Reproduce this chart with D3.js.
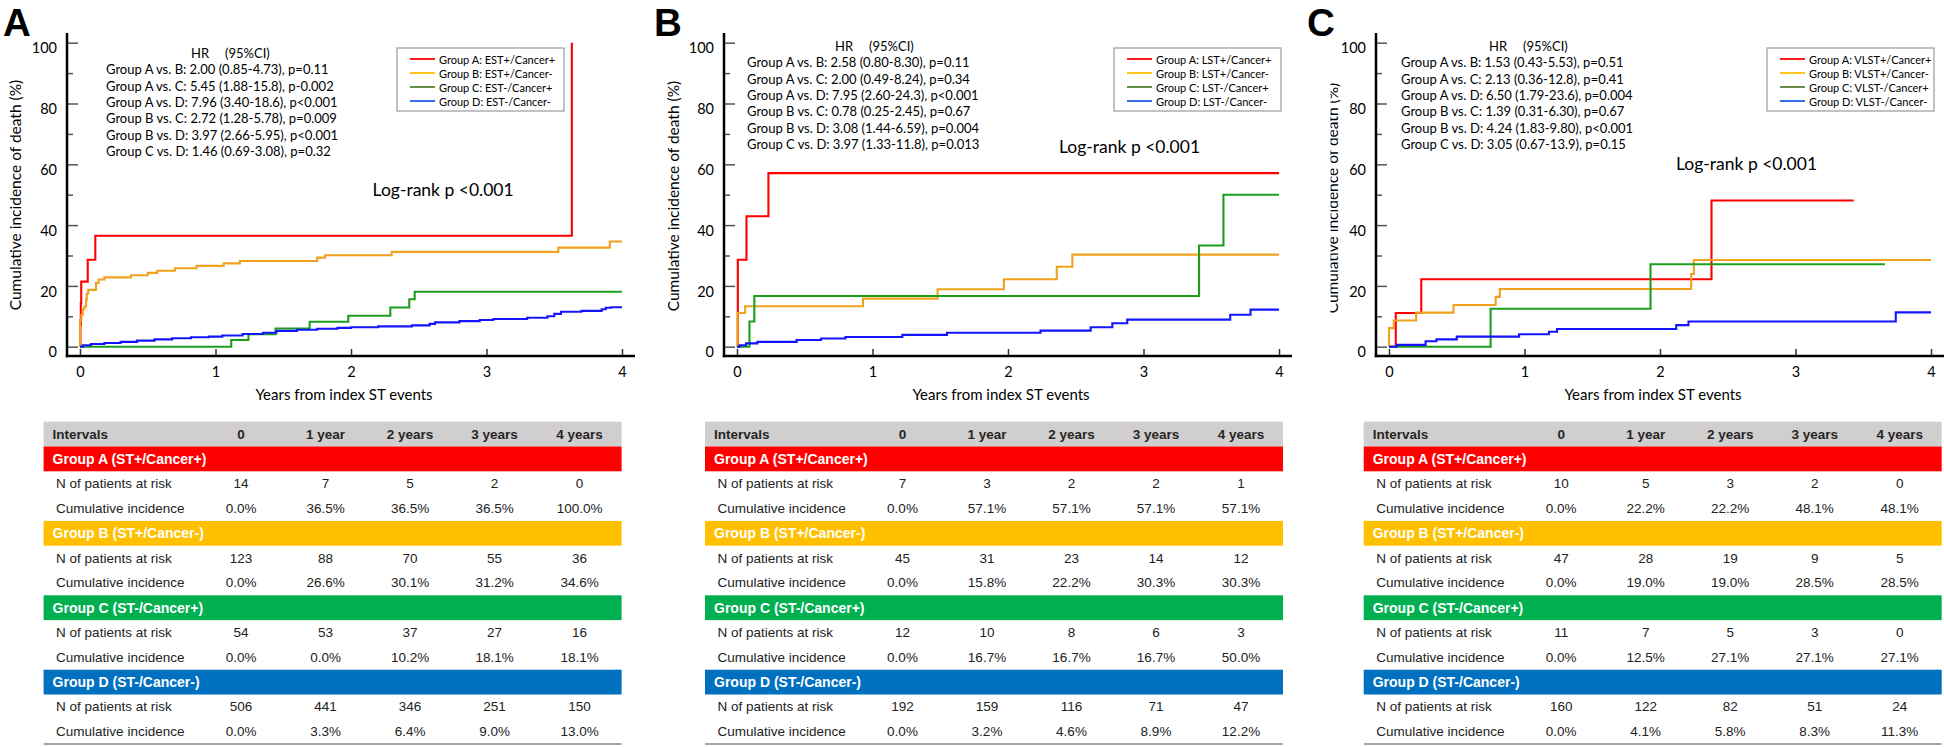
<!DOCTYPE html>
<html><head><meta charset="utf-8">
<script src="https://cdn.jsdelivr.net/npm/d3@7"></script>
<style>body{margin:0;background:#fff}svg{display:block}</style>
</head><body><svg id="c" width="1944" height="747"></svg>
<script>
// ---------- data ----------
const panelLetters = ["A", "B", "C"];
const xTicks = [0, 1, 2, 3, 4];
const yMajor = [0, 20, 40, 60, 80, 100];
const yMinor = [10, 30, 50, 70, 90];
const xTitle = "Years from index ST events";
const yTitle = "Cumulative incidence of death (%)";
const logRank = "Log-rank p <0.001";

const legendA = ["Group A: EST+/Cancer+", "Group B: EST+/Cancer-", "Group C: EST-/Cancer+", "Group D: EST-/Cancer-"];
const legendB = ["Group A: LST+/Cancer+", "Group B: LST+/Cancer-", "Group C: LST-/Cancer+", "Group D: LST-/Cancer-"];
const legendC = ["Group A: VLST+/Cancer+", "Group B: VLST+/Cancer-", "Group C: VLST-/Cancer+", "Group D: VLST-/Cancer-"];

const hrA = ["Group A vs. B: 2.00 (0.85-4.73), p=0.11", "Group A vs. C: 5.45 (1.88-15.8), p-0.002", "Group A vs. D: 7.96 (3.40-18.6), p<0.001",
  "Group B vs. C: 2.72 (1.28-5.78), p=0.009", "Group B vs. D: 3.97 (2.66-5.95), p<0.001", "Group C vs. D: 1.46 (0.69-3.08), p=0.32"];
const hrB = ["Group A vs. B: 2.58 (0.80-8.30), p=0.11", "Group A vs. C: 2.00 (0.49-8.24), p=0.34", "Group A vs. D: 7.95 (2.60-24.3), p<0.001",
  "Group B vs. C: 0.78 (0.25-2.45), p=0.67", "Group B vs. D: 3.08 (1.44-6.59), p=0.004", "Group C vs. D: 3.97 (1.33-11.8), p=0.013"];
const hrC = ["Group A vs. B: 1.53 (0.43-5.53), p=0.51", "Group A vs. C: 2.13 (0.36-12.8), p=0.41", "Group A vs. D: 6.50 (1.79-23.6), p=0.004",
  "Group B vs. C: 1.39 (0.31-6.30), p=0.67", "Group B vs. D: 4.24 (1.83-9.80), p<0.001", "Group C vs. D: 3.05 (0.67-13.9), p=0.15"];

// step curves: [years, cumulative incidence %]; end = last follow-up time
const A_red = [[0,0],[0.003,7.1],[0.006,14.3],[0.009,21.4],[0.057,28.6],[0.113,36.5],[3.63,100]];
const A_redEnd = 3.63;
const A_orange = [[0,0],[0,8.8],[0.01,10.5],[0.02,12.3],[0.032,13.2],[0.045,15.5],[0.05,17.5],[0.061,18.7],[0.118,21],[0.138,22.1],[0.18,22.8],[0.376,23.5],[0.5,24.3],[0.57,25],[0.7,25.8],[0.86,26.6],[1.06,27.4],[1.18,28.2],[1.75,29.3],[1.81,30.1],[2.30,31.2],[3.53,32.6],[3.91,34.6]];
const A_orangeEnd = 4;
const A_green = [[0,0],[1.116,2.2],[1.243,4.1],[1.443,6.0],[1.695,8.2],[1.98,10.2],[2.29,12.9],[2.43,15.6],[2.47,18.1]];
const A_greenEnd = 4;
const A_blue = [[0,0],[0.02,0.5],[0.08,0.9],[0.18,1.2],[0.3,1.6],[0.42,2.0],[0.55,2.4],[0.68,2.8],[0.82,3.1],[0.95,3.3],[1.05,3.7],[1.2,4.2],[1.35,4.6],[1.45,5.2],[1.6,5.6],[1.75,5.9],[1.9,6.2],[2.0,6.4],[2.2,6.7],[2.45,7.0],[2.58,7.5],[2.62,8.0],[2.8,8.4],[2.95,8.8],[3.05,9.1],[3.3,9.5],[3.45,10.0],[3.5,10.8],[3.55,11.5],[3.7,11.8],[3.85,12.3],[3.88,12.8],[3.92,13.0]];
const A_blueEnd = 4;

const B_red = [[0,0],[0.006,28.6],[0.07,42.9],[0.232,57.1]];
const B_redEnd = 4;
const B_orange = [[0,0],[0.004,11.1],[0.06,13.3],[0.93,15.8],[1.48,18.9],[1.97,22.2],[2.36,26.3],[2.475,30.3]];
const B_orangeEnd = 4;
const B_green = [[0,0],[0.092,8.3],[0.128,16.7],[3.41,33.3],[3.59,50.0]];
const B_greenEnd = 4;
const B_blue = [[0,0],[0.02,0.5],[0.067,1.1],[0.15,1.6],[0.44,2.2],[0.62,2.7],[0.80,3.2],[1.22,3.9],[1.55,4.6],[2.24,5.3],[2.61,6.4],[2.77,7.7],[2.88,8.9],[3.64,10.5],[3.79,12.2]];
const B_blueEnd = 4;

const C_red = [[0,0],[0.05,11.1],[0.238,22.2],[2.38,48.1]];
const C_redEnd = 3.43;
const C_orange = [[0,0],[0,6.1],[0.035,8.6],[0.2,11.2],[0.476,13.7],[0.787,16.4],[0.818,19.0],[2.23,23.9],[2.25,28.5]];
const C_orangeEnd = 4;
const C_green = [[0,0],[0.75,12.5],[1.93,27.1]];
const C_greenEnd = 3.66;
const C_blue = [[0,0],[0.058,0.6],[0.27,1.8],[0.35,2.4],[0.5,3.3],[0.96,4.1],[1.18,4.9],[1.24,5.8],[2.12,7.1],[2.21,8.3],[3.74,11.3]];
const C_blueEnd = 4;

// table
const tableHead = ["Intervals", "0", "1 year", "2 years", "3 years", "4 years"];
const groupLabels = ["Group A (ST+/Cancer+)", "Group B (ST+/Cancer-)", "Group C (ST-/Cancer+)", "Group D (ST-/Cancer-)"];
const rowLabels = ["N of patients at risk", "Cumulative incidence"];
const riskA = [[14,7,5,2,0],[123,88,70,55,36],[54,53,37,27,16],[506,441,346,251,150]];
const incA = [[0,36.5,36.5,36.5,100],[0,26.6,30.1,31.2,34.6],[0,0,10.2,18.1,18.1],[0,3.3,6.4,9.0,13.0]];
const riskB = [[7,3,2,2,1],[45,31,23,14,12],[12,10,8,6,3],[192,159,116,71,47]];
const incB = [[0,57.1,57.1,57.1,57.1],[0,15.8,22.2,30.3,30.3],[0,16.7,16.7,16.7,50.0],[0,3.2,4.6,8.9,12.2]];
const riskC = [[10,5,3,2,0],[47,28,19,9,5],[11,7,5,3,0],[160,122,82,51,24]];
const incC = [[0,22.2,22.2,48.1,48.1],[0,19.0,19.0,28.5,28.5],[0,12.5,27.1,27.1,27.1],[0,4.1,5.8,8.3,11.3]];

// ---------- layout / style ----------
const curveColors = ["#ff0000", "#f0a21e", "#1c9e1c", "#1414ff"];
const legendColors = ["#ff0000", "#ffc000", "#548235", "#1f5ee6"];
const bandColors = ["#ff0000", "#ffc000", "#00b050", "#0070c0"];
const chartFont = "Lato, 'Open Sans', sans-serif";
const tableFont = "'Liberation Sans', Arial, sans-serif";

const panels = [
  {ox: 0, letterX: 3, legend: legendA, hr: hrA, hrX: 106, hrLab: [191, 225], hrY: 53, logX: 372.6, logY: 189, ytX: 15, ytY: 195,
   curves: [[A_red, A_redEnd], [A_orange, A_orangeEnd], [A_green, A_greenEnd], [A_blue, A_blueEnd]], legendX: 397,
   tableX: 43.6, risk: riskA, inc: incA},
  {ox: 657, letterX: 654, legend: legendB, hr: hrB, hrX: 90, hrLab: [178, 212], hrY: 46, logX: 402, logY: 146, ytX: 16, ytY: 196,
   curves: [[B_red, B_redEnd], [B_orange, B_orangeEnd], [B_green, B_greenEnd], [B_blue, B_blueEnd]], legendX: 457,
   tableX: 705, risk: riskB, inc: incB},
  {ox: 1309, letterX: 1307, legend: legendC, hr: hrC, hrX: 92, hrLab: [180, 214], hrY: 46, logX: 367, logY: 163, ytX: 23, ytY: 198,
   curves: [[C_red, C_redEnd], [C_orange, C_orangeEnd], [C_green, C_greenEnd], [C_blue, C_blueEnd]], legendX: 458,
   tableX: 1363.7, risk: riskC, inc: incC, clipTitle: 1330.5}
];

const svg = d3.select("#c");
svg.append("rect").attr("width", 1944).attr("height", 747).attr("fill", "#fff");
const defs = svg.append("defs");

const yAxisX = 67, yAxisTop = 33, xAxisY = 356, xAxisRight = 635;
const y = d3.scaleLinear().domain([0, 100]).range([346.7, 42.7]);

panels.forEach((p, pi) => {
  const g = svg.append("g").attr("transform", `translate(${p.ox},0)`);
  const x = d3.scaleLinear().domain([0, 4]).range([80, 622]);

  // panel letter
  svg.append("text").attr("x", p.letterX).attr("y", 35.5)
    .attr("font-family", tableFont).attr("font-weight", "bold").attr("font-size", 38.5)
    .attr("fill", "#000").text(panelLetters[pi]);

  // y axis ticks
  const yAx = g.append("g").attr("transform", `translate(${yAxisX},0)`)
    .call(d3.axisLeft(y).tickValues(yMajor).tickSize(-11).tickPadding(10).tickFormat(d3.format("d")));
  yAx.select(".domain").remove();
  yAx.selectAll("line").attr("stroke", "#555").attr("stroke-width", 1.5);
  yAx.selectAll("text").attr("font-family", chartFont).attr("font-size", 14.5).attr("fill", "#000")
    .attr("transform", "translate(0,5.5)");
  const yMin = g.append("g").attr("transform", `translate(${yAxisX},0)`)
    .call(d3.axisLeft(y).tickValues(yMinor).tickSize(-6).tickFormat(""));
  yMin.select(".domain").remove();
  yMin.selectAll("line").attr("stroke", "#555").attr("stroke-width", 1.5);

  // x axis ticks
  const xAx = g.append("g").attr("transform", `translate(0,${xAxisY})`)
    .call(d3.axisBottom(x).tickValues(xTicks).tickSize(-7).tickPadding(11).tickFormat(d3.format("d")));
  xAx.select(".domain").remove();
  xAx.selectAll("line").attr("stroke", "#333").attr("stroke-width", 1.5);
  xAx.selectAll("text").attr("font-family", chartFont).attr("font-size", 14.5).attr("fill", "#000");

  // axis lines
  g.append("line").attr("x1", yAxisX).attr("x2", yAxisX).attr("y1", yAxisTop).attr("y2", xAxisY + 1.2)
    .attr("stroke", "#000").attr("stroke-width", 2.5);
  g.append("line").attr("x1", yAxisX - 1.2).attr("x2", xAxisRight).attr("y1", xAxisY).attr("y2", xAxisY)
    .attr("stroke", "#000").attr("stroke-width", 2.5);

  // axis titles
  g.append("text").attr("x", 344).attr("y", 394).attr("text-anchor", "middle").attr("dominant-baseline", "central")
    .attr("font-family", chartFont).attr("font-size", 15).attr("fill", "#000").text(xTitle);
  const ytWrap = g.append("g");
  ytWrap.append("text").attr("transform", `translate(${p.ytX},${p.ytY}) rotate(-90)`)
    .attr("text-anchor", "middle").attr("dominant-baseline", "central")
    .attr("font-family", chartFont).attr("font-size", 15.5).attr("fill", "#000").text(yTitle);
  if (p.clipTitle) {
    defs.append("clipPath").attr("id", "clipC").append("rect")
      .attr("x", p.clipTitle - p.ox).attr("y", 0).attr("width", 100).attr("height", 400);
    ytWrap.attr("clip-path", "url(#clipC)");
  }

  // curves
  const line = d3.line().x(d => x(d[0])).y(d => y(d[1])).curve(d3.curveStepAfter);
  p.curves.forEach(([steps, end], ci) => {
    const pts = steps.concat([[end, steps[steps.length - 1][1]]]);
    g.append("path").attr("d", line(pts)).attr("fill", "none")
      .attr("stroke", curveColors[ci]).attr("stroke-width", 2.1);
  });

  // HR text
  g.append("text").attr("x", p.hrLab[0]).attr("y", p.hrY).attr("dominant-baseline", "central")
    .attr("font-family", chartFont).attr("font-size", 13).attr("fill", "#000").text("HR");
  g.append("text").attr("x", p.hrLab[1]).attr("y", p.hrY).attr("dominant-baseline", "central")
    .attr("font-family", chartFont).attr("font-size", 13).attr("fill", "#000").text("(95%CI)");
  p.hr.forEach((t, i) => {
    g.append("text").attr("x", p.hrX).attr("y", p.hrY + 16.3 * (i + 1)).attr("dominant-baseline", "central")
      .attr("font-family", chartFont).attr("font-size", 13).attr("fill", "#000").text(t);
  });

  // log-rank
  g.append("text").attr("x", p.logX).attr("y", p.logY).attr("dominant-baseline", "central")
    .attr("font-family", chartFont).attr("font-size", 17.5).attr("fill", "#000").text(logRank);

  // legend
  const lg = g.append("g").attr("transform", `translate(${p.legendX},48)`);
  lg.append("rect").attr("x", 0).attr("y", 0).attr("width", 167).attr("height", 63)
    .attr("fill", "#fff").attr("stroke", "#9a9a9a").attr("stroke-width", 1.2);
  p.legend.forEach((t, i) => {
    const yy = 11 + 14 * i;
    lg.append("line").attr("x1", 13).attr("x2", 38).attr("y1", yy).attr("y2", yy)
      .attr("stroke", legendColors[i]).attr("stroke-width", 1.8);
    lg.append("text").attr("x", 42).attr("y", yy).attr("dominant-baseline", "central")
      .attr("font-family", chartFont).attr("font-size", 11).attr("fill", "#000").text(t);
  });

  // table
  const tW = 578, top = 421.7, rh = 24.8;
  const colC = [197.5, 282, 366.5, 451, 536];
  const tg = svg.append("g").attr("transform", `translate(${p.tableX},${top})`);
  tg.append("rect").attr("x", 0).attr("y", 0).attr("width", tW).attr("height", rh).attr("fill", "#d0cece");
  tableHead.forEach((t, i) => {
    tg.append("text").attr("x", i === 0 ? 9 : colC[i - 1]).attr("y", rh / 2)
      .attr("text-anchor", i === 0 ? "start" : "middle").attr("dominant-baseline", "central")
      .attr("font-family", tableFont).attr("font-weight", "bold").attr("font-size", 13.5).attr("fill", "#262626").text(t);
  });
  groupLabels.forEach((gl, gi) => {
    const by = rh * (1 + gi * 3);
    tg.append("rect").attr("x", 0).attr("y", by).attr("width", tW).attr("height", rh).attr("fill", bandColors[gi]);
    tg.append("text").attr("x", 9).attr("y", by + rh / 2).attr("dominant-baseline", "central")
      .attr("font-family", tableFont).attr("font-weight", "bold").attr("font-size", 14).attr("fill", "#fff").text(gl);
    const rows = [p.risk[gi].map(String), p.inc[gi].map(v => v.toFixed(1) + "%")];
    rows.forEach((vals, ri) => {
      const ry = by + rh * (ri + 1) + rh / 2;
      tg.append("text").attr("x", 12.5).attr("y", ry).attr("dominant-baseline", "central")
        .attr("font-family", tableFont).attr("font-size", 13.5).attr("fill", "#222").text(rowLabels[ri]);
      vals.forEach((v, vi) => {
        tg.append("text").attr("x", colC[vi]).attr("y", ry).attr("text-anchor", "middle").attr("dominant-baseline", "central")
          .attr("font-family", tableFont).attr("font-size", 13.5).attr("fill", "#222").text(v);
      });
    });
  });
  tg.append("line").attr("x1", 0).attr("x2", tW).attr("y1", rh * 13).attr("y2", rh * 13)
    .attr("stroke", "#a6a6a6").attr("stroke-width", 2);
});
</script></body></html>
